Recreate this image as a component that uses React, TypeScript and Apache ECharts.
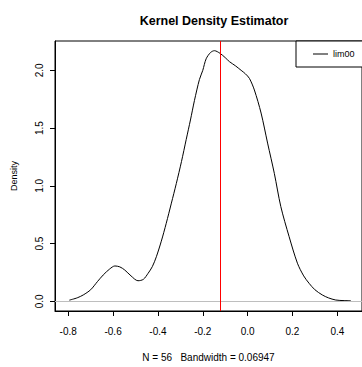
import React, { useEffect, useRef } from "react";
import * as echarts from "echarts";

const xs = [-0.795, -0.76, -0.733, -0.70, -0.67, -0.644, -0.615, -0.592, -0.57, -0.548, -0.52, -0.489, -0.465, -0.444, -0.425, -0.407, -0.385, -0.363, -0.34, -0.318, -0.295, -0.274, -0.255, -0.237, -0.215, -0.2, -0.185, -0.165, -0.148, -0.123, -0.10, -0.081, -0.055, -0.029, -0.01, 0.008, 0.03, 0.06, 0.089, 0.119, 0.148, 0.185, 0.222, 0.25, 0.274, 0.30, 0.333, 0.36, 0.393, 0.43, 0.46];
const ys = [0.01, 0.03, 0.055, 0.10, 0.17, 0.228, 0.28, 0.306, 0.298, 0.271, 0.22, 0.178, 0.19, 0.242, 0.30, 0.386, 0.52, 0.675, 0.85, 1.02, 1.21, 1.40, 1.57, 1.74, 1.92, 2.0, 2.10, 2.155, 2.17, 2.147, 2.11, 2.075, 2.04, 2.0, 1.97, 1.93, 1.83, 1.63, 1.37, 1.108, 0.82, 0.56, 0.33, 0.22, 0.156, 0.10, 0.055, 0.03, 0.011, 0.006, 0.005];
const xTicks = [-0.8, -0.6, -0.4, -0.2, 0.0, 0.2, 0.4];
const yTicks = [0.0, 0.5, 1.0, 1.5, 2.0];
const refLine = -0.122;
const seriesName = "lim00";
const title = "Kernel Density Estimator";
const xTitle = "N = 56   Bandwidth = 0.06947";
const yTitle = "Density";

export default function App() {
  const ref = useRef<HTMLDivElement>(null);
  useEffect(() => {
    if (!ref.current) return;
    const chart = echarts.init(ref.current, null, { renderer: "svg" });
    const font = "'Liberation Sans', Arial, sans-serif";
    chart.setOption({
      animation: false,
      backgroundColor: "#fff",
      title: {
        text: title,
        left: 209,
        top: 9,
        textAlign: "center",
        textStyle: { fontFamily: font, fontWeight: "bold", fontSize: 12.5, color: "#000" },
      },
      legend: {
        left: 296,
        top: 41,
        data: [{ name: seriesName, icon: "rect" }],
        itemWidth: 15,
        itemHeight: 1,
        padding: [8, 30, 8, 17],
        borderColor: "#000",
        borderWidth: 1,
        backgroundColor: "#fff",
        itemStyle: { color: "#000" },
        textStyle: { fontFamily: font, fontSize: 9, color: "#000", lineHeight: 10 },
      },
      grid: {
        left: 55,
        top: 41,
        right: -1,
        bottom: 56,
        show: true,
        borderColor: "#000",
        borderWidth: 1,
        containLabel: false,
      },
      xAxis: {
        type: "value",
        min: -0.859,
        max: 0.51,
        name: xTitle,
        nameLocation: "middle",
        nameGap: 41,
        nameTextStyle: { fontFamily: font, fontSize: 10, color: "#000" },
        axisLine: { show: true, onZero: false, lineStyle: { color: "#000" } },
        axisTick: { show: true, length: 5, customValues: xTicks, lineStyle: { color: "#000" } },
        axisLabel: {
          customValues: xTicks,
          margin: 15,
          fontFamily: font,
          fontSize: 10,
          color: "#000",
          formatter: (v: number) => v.toFixed(1),
        },
        splitLine: { show: false },
      },
      yAxis: {
        type: "value",
        min: -0.084,
        max: 2.254,
        name: yTitle,
        nameLocation: "middle",
        nameGap: 37,
        nameTextStyle: { fontFamily: font, fontSize: 9, color: "#000" },
        axisLine: { show: true, onZero: false, lineStyle: { color: "#000" } },
        axisTick: { show: true, length: 5, customValues: yTicks, lineStyle: { color: "#000" } },
        axisLabel: {
          customValues: yTicks,
          rotate: 90,
          margin: 11,
          fontFamily: font,
          fontSize: 10,
          color: "#000",
          formatter: (v: number) => v.toFixed(1),
        },
        splitLine: { show: false },
      },
      series: [
        {
          name: seriesName,
          type: "line",
          data: xs.map((x, i) => [x, ys[i]]),
          smooth: 0.3,
          symbol: "none",
          showSymbol: false,
          lineStyle: { color: "#000", width: 1 },
          itemStyle: { color: "#000" },
          z: 3,
          markLine: {
            silent: true,
            symbol: "none",
            label: { show: false },
            animation: false,
            data: [
              { yAxis: 0, lineStyle: { color: "#bebebe", width: 1, type: "solid" } },
              { xAxis: refLine, lineStyle: { color: "#ff0000", width: 1, type: "solid" } },
            ],
          },
        },
      ],
    });
    return () => chart.dispose();
  }, []);
  return (
    <div
      ref={ref}
      style={{ position: "fixed", left: 0, top: 0, width: 362, height: 367, background: "#fff" }}
    />
  );
}
